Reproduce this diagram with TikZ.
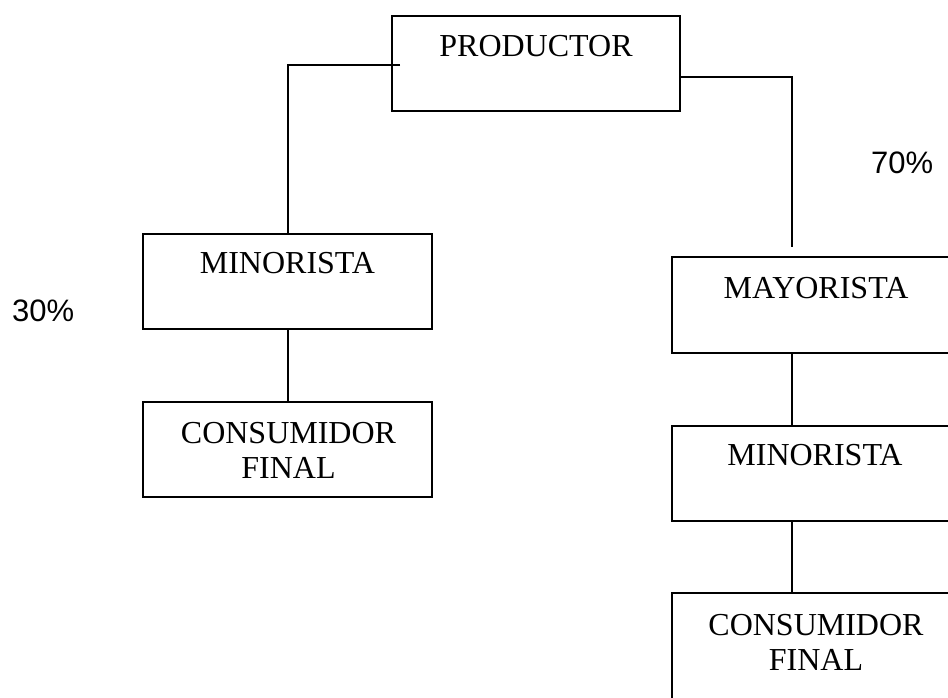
\documentclass[tikz,border=0pt]{standalone}
\usepackage{fontspec}
\setmainfont{Liberation Serif}
\newfontfamily\arialfont{Liberation Sans}
\begin{document}
\begin{tikzpicture}[x=1pt,y=-1pt,
  box/.style={draw=black,line width=2pt,fill=none,inner sep=0pt},
  lbl/.style={font=\fontsize{32}{35}\selectfont,anchor=base,inner sep=0pt},
  pct/.style={font=\arialfont\fontsize{31}{35}\selectfont,anchor=base west,inner sep=0pt},
  conn/.style={draw=black,line width=2pt}]
\useasboundingbox[fill=white] (0,0) rectangle (948,698);
% boxes
\node[box,minimum width=288pt,minimum height=95pt] (prod) at (536,63.5) {};
\node[box,minimum width=289pt,minimum height=95pt] (minL) at (287.5,281.5) {};
\node[box,minimum width=289pt,minimum height=95pt] (consL) at (287.5,449.5) {};
\node[box,minimum width=288pt,minimum height=96pt] (may) at (816,305) {};
\node[box,minimum width=288pt,minimum height=95pt] (minR) at (816,473.5) {};
\node[box,minimum width=288pt,minimum height=130pt] (consR) at (816,658) {};
% texts
\node[lbl] (tprod) at (536,57) {PRODUCTOR};
\node[lbl] (tminL) at (287.5,273) {MINORISTA};
\node[lbl] (tconsL1) at (288.5,443) {CONSUMIDOR};
\node[lbl] (tconsL2) at (288.5,478) {FINAL};
\node[lbl] (tmay) at (816,298) {MAYORISTA};
\node[lbl] (tminR) at (815,465) {MINORISTA};
\node[lbl] (tconsR1) at (816,635) {CONSUMIDOR};
\node[lbl] (tconsR2) at (816,670) {FINAL};
\node[pct] (p30) at (12,321) {30\%};
\node[pct] (p70) at (871,174) {70\%};
% connectors
\coordinate (ls) at (400,65);
\coordinate (rs) at (792,247);
\draw[conn] (ls) -| (minL.north);
\draw[conn] (minL.south) -- (consL.north);
\draw[conn] (prod.east |- 0,77) -| (rs);
\draw[conn] (may.south -| rs) -- (minR.north -| rs);
\draw[conn] (minR.south -| rs) -- (consR.north -| rs);
\end{tikzpicture}
\end{document}
